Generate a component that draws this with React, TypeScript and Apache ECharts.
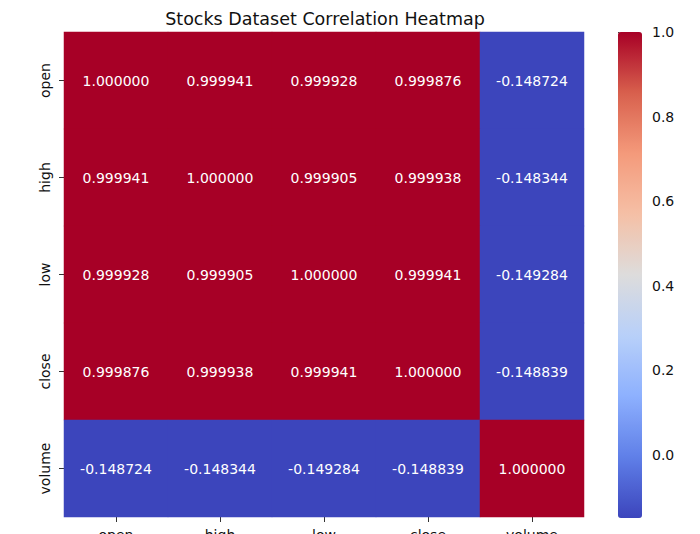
import React, { useEffect, useRef } from "react";
import * as echarts from "echarts";

const labels = ["open", "high", "low", "close", "volume"];
const rowOpen = [1.0, 0.999941, 0.999928, 0.999876, -0.148724];
const rowHigh = [0.999941, 1.0, 0.999905, 0.999938, -0.148344];
const rowLow = [0.999928, 0.999905, 1.0, 0.999941, -0.149284];
const rowClose = [0.999876, 0.999938, 0.999941, 1.0, -0.148839];
const rowVolume = [-0.148724, -0.148344, -0.149284, -0.148839, 1.0];
const colorbarTicks = [0.0, 0.2, 0.4, 0.6, 0.8, 1.0];
const coolwarm = [
  "#3c45bc",
  "#5f7fe8",
  "#8db0fe",
  "#b8d0f9",
  "#dddcdc",
  "#f5c0a6",
  "#f49a7b",
  "#d8604d",
  "#a70026",
];

const FONT = "DejaVu Sans";

export default function App() {
  const ref = useRef<HTMLDivElement>(null);
  useEffect(() => {
    if (!ref.current) return;
    const chart = echarts.init(ref.current, null, { renderer: "svg" });
    const rows = [rowOpen, rowHigh, rowLow, rowClose, rowVolume];
    const data: [number, number, number][] = [];
    rows.forEach((row, r) => row.forEach((v, c) => data.push([c, r, v])));
    const all = rows.flat();
    const vmin = Math.min(...all);
    const vmax = Math.max(...all);

    chart.setOption({
      animation: false,
      backgroundColor: "#ffffff",
      title: {
        text: "Stocks Dataset Correlation Heatmap",
        left: 320,
        top: 5,
        textAlign: "center",
        textStyle: { fontFamily: FONT, fontSize: 17.5, fontWeight: "normal", color: "#111" },
      },
      grid: [
        { left: 64, width: 520, top: 32, height: 485, outerBoundsMode: "none", containLabel: false },
        { left: 618, width: 24, top: 32, height: 486, outerBoundsMode: "none", containLabel: false },
      ],
      xAxis: [
        {
          type: "category",
          data: labels,
          gridIndex: 0,
          position: "bottom",
          axisLine: { show: false },
          axisTick: { show: true, length: 5, alignWithLabel: true, lineStyle: { color: "#333" } },
          axisLabel: { fontFamily: FONT, fontSize: 14, color: "#111", margin: 11 },
          splitLine: { show: false },
        },
        {
          type: "value",
          gridIndex: 1,
          show: false,
        },
      ],
      yAxis: [
        {
          type: "category",
          data: labels,
          gridIndex: 0,
          inverse: true,
          axisLine: { show: false },
          axisTick: { show: true, length: 5, alignWithLabel: true, lineStyle: { color: "#333" } },
          axisLabel: {
            fontFamily: FONT,
            fontSize: 14,
            color: "#111",
            rotate: 90,
            margin: 12,
          },
          splitLine: { show: false },
        },
        {
          type: "value",
          gridIndex: 1,
          position: "right",
          min: vmin,
          max: vmax,
          axisLine: { show: false },
          splitLine: { show: false },
          axisTick: {
            show: true,
            length: 5,
            customValues: colorbarTicks,
            lineStyle: { color: "#333" },
          },
          axisLabel: {
            fontFamily: FONT,
            fontSize: 14,
            color: "#111",
            margin: 10,
            customValues: colorbarTicks,
            formatter: (v: number) => v.toFixed(1),
          },
        },
      ],
      visualMap: {
        type: "continuous",
        min: vmin,
        max: vmax,
        calculable: false,
        seriesIndex: 0,
        orient: "vertical",
        left: 618,
        top: 32,
        padding: 0,
        itemWidth: 24,
        itemHeight: 486,
        text: ["", ""],
        showLabel: false,
        hoverLink: false,
        inRange: { color: coolwarm },
      },
      series: [
        {
          type: "heatmap",
          xAxisIndex: 0,
          yAxisIndex: 0,
          data,
          label: {
            show: true,
            fontFamily: FONT,
            fontSize: 14,
            color: "#ffffff",
            formatter: (p: any) => Number(p.value[2]).toFixed(6),
          },
          itemStyle: { borderWidth: 0 },
          emphasis: { disabled: true },
        },
      ],
    });
    return () => chart.dispose();
  }, []);
  return (
    <div
      ref={ref}
      style={{ position: "absolute", left: 0, top: 0, width: 700, height: 534 }}
    />
  );
}
